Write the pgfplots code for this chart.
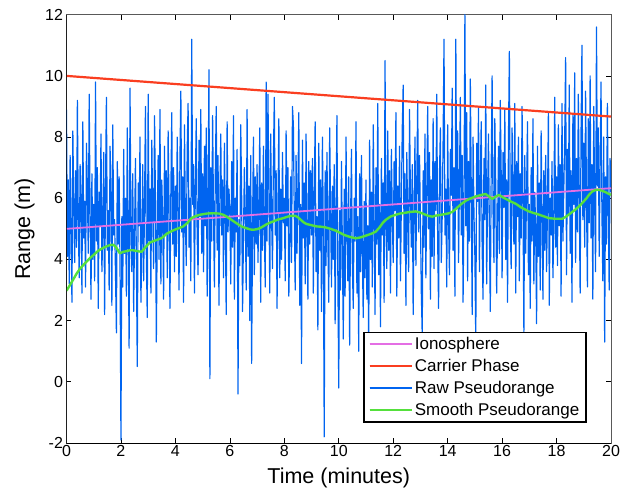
\documentclass[border=0pt]{standalone}
\usepackage{pgfplots}
\pgfplotsset{compat=1.18}
\usepackage{fontspec}
\setmainfont{Liberation Sans}
\definecolor{rawblue}{RGB}{0,100,240}
\definecolor{carrred}{RGB}{250,62,32}
\definecolor{ionoviolet}{RGB}{228,110,228}
\definecolor{smoothgreen}{RGB}{85,224,60}
\begin{document}
\begin{tikzpicture}
\begin{axis}[
  at={(0,0)}, anchor=south west,
  scale only axis, width=544.5pt, height=428.3pt,
  xmin=0, xmax=20, ymin=-2, ymax=12,
  xtick={0,2,...,20}, ytick={-2,0,...,12},
  tick align=inside, major tick length=5pt,
  tick style={black, line width=0.7pt},
  axis line style={black!65, line width=0.9pt},
  ticklabel style={font=\fontsize{16}{18}\selectfont},
  xticklabel style={yshift=1.3pt},
  /pgf/number format/assume math mode=true,
  xlabel={Time (minutes)}, ylabel={Range (m)},
  every axis x label/.style={at={(axis description cs:0.5,0)}, anchor=base, yshift=-40pt, font=\fontsize{21.5}{24}\selectfont},
  every axis y label/.style={at={(axis description cs:-0.077,0.5)}, rotate=90, anchor=center, font=\fontsize{21.5}{24}\selectfont},
  legend style={at={(axis description cs:0.955,0.047)}, anchor=south east,
    draw=black, line width=1.4pt, fill=white,
    font=\fontsize{17}{19}\selectfont,
    inner xsep=4.5pt, inner ysep=3pt, row sep=4.2pt},
  legend cell align=left,
  legend image code/.code={\draw[#1] (0pt,0pt) -- (28pt,0pt); \path (0pt,0pt) -- (42pt,0pt);},
]
\addplot[rawblue, line width=1.2pt, line join=round, forget plot]
  table[header=false, row sep=\\, x expr=\coordindex/30, y index=0] {
8.9\\4.1\\6.6\\3.2\\7.4\\5.0\\2.6\\8.2\\5.7\\3.9\\6.9\\4.4\\9.2\\5.2\\3.4\\7.1\\6.0\\2.9\\8.5\\4.7\\5.9\\3.1\\7.8\\6.3\\4.2\\9.4\\5.5\\2.7\\6.8\\4.0\\
5.8\\3.3\\9.8\\4.6\\7.0\\2.4\\6.2\\5.1\\8.1\\3.6\\4.9\\7.5\\2.2\\6.4\\9.3\\4.3\\5.6\\3.0\\7.7\\6.1\\2.5\\8.4\\4.8\\5.3\\3.5\\1.6\\7.2\\4.5\\6.7\\3.8\\
-1.9\\5.4\\3.1\\7.6\\4.2\\6.0\\2.8\\8.3\\4.7\\1.1\\9.6\\5.2\\3.6\\6.8\\2.3\\4.9\\7.3\\3.9\\0.5\\6.5\\5.1\\8.0\\2.6\\4.4\\7.1\\3.3\\5.8\\9.0\\4.1\\2.1\\
9.4\\4.6\\6.3\\2.9\\7.9\\5.5\\3.7\\8.7\\6.1\\1.3\\5.0\\7.4\\4.0\\8.9\\3.2\\6.6\\5.3\\2.7\\7.7\\4.8\\6.9\\3.4\\8.2\\5.7\\2.4\\6.2\\8.8\\4.5\\7.0\\3.6\\
6.4\\4.1\\8.0\\5.6\\3.0\\7.3\\9.5\\4.9\\6.7\\2.6\\8.4\\5.2\\3.8\\7.6\\9.1\\4.4\\6.0\\3.3\\11.2\\5.8\\7.1\\2.9\\6.5\\8.6\\4.7\\3.5\\7.9\\5.4\\8.9\\4.2\\
6.8\\3.6\\7.7\\5.1\\8.3\\2.8\\6.2\\10.2\\0.1\\7.0\\4.6\\8.7\\5.5\\3.1\\6.9\\9.0\\4.3\\7.4\\2.5\\5.9\\8.1\\4.8\\6.6\\3.4\\7.8\\5.3\\2.2\\8.5\\4.9\\6.3\\
5.6\\3.2\\7.2\\4.4\\8.7\\2.7\\6.0\\4.9\\7.6\\-0.4\\5.3\\3.8\\8.4\\6.1\\2.3\\4.7\\7.0\\5.5\\3.0\\8.9\\4.1\\6.4\\2.0\\7.4\\0.6\\5.0\\8.0\\3.5\\6.7\\4.5\\
7.1\\3.9\\5.8\\8.3\\2.6\\6.5\\4.3\\7.7\\5.0\\3.1\\9.8\\4.6\\9.4\\6.2\\2.9\\8.1\\5.4\\3.7\\7.3\\9.3\\4.8\\6.9\\2.4\\5.7\\8.6\\3.4\\6.3\\4.0\\7.5\\5.2\\
6.0\\3.3\\8.2\\5.1\\7.0\\2.8\\4.6\\6.7\\3.9\\9.0\\8.4\\5.5\\3.0\\7.4\\4.2\\6.3\\8.8\\2.5\\5.8\\0.6\\7.9\\4.7\\6.5\\3.2\\8.1\\5.0\\2.7\\7.2\\4.5\\6.9\\
4.8\\7.3\\2.9\\6.1\\8.5\\3.6\\5.4\\1.7\\7.8\\4.3\\6.6\\2.3\\8.0\\5.0\\-1.8\\6.9\\3.8\\7.5\\4.6\\2.6\\8.3\\5.7\\3.1\\6.4\\4.0\\7.1\\1.9\\5.5\\8.7\\3.5\\
-0.2\\5.6\\3.0\\7.2\\4.4\\1.4\\6.3\\2.8\\8.0\\4.9\\3.3\\6.7\\1.2\\5.2\\7.6\\3.8\\2.4\\6.0\\4.6\\8.5\\2.9\\5.4\\1.0\\6.8\\3.6\\7.4\\4.2\\2.1\\5.9\\3.4\\
6.6\\2.7\\5.1\\1.0\\7.9\\4.0\\6.2\\3.1\\8.4\\5.3\\2.2\\7.0\\4.5\\9.1\\3.5\\5.8\\1.8\\7.3\\4.8\\6.5\\2.6\\10.5\\5.0\\3.7\\8.2\\4.3\\6.9\\2.9\\7.6\\5.4\\
3.9\\7.2\\5.6\\8.8\\2.8\\6.4\\4.7\\7.7\\3.3\\5.9\\8.3\\9.7\\4.2\\6.8\\2.5\\7.5\\5.1\\3.6\\8.9\\6.0\\4.4\\7.1\\2.2\\5.5\\8.0\\3.8\\6.6\\9.2\\4.9\\7.4\\
5.3\\2.9\\1.5\\6.9\\4.4\\8.1\\3.4\\6.2\\9.0\\5.0\\7.5\\2.7\\6.6\\4.1\\8.6\\3.7\\7.2\\5.6\\9.4\\4.6\\2.4\\6.8\\8.3\\3.9\\5.4\\7.9\\11.2\\4.8\\6.3\\3.1\\
8.4\\5.2\\3.5\\7.6\\6.1\\9.6\\4.3\\7.0\\2.8\\11.2\\5.7\\8.2\\3.9\\6.5\\9.3\\4.8\\7.4\\2.6\\6.0\\12.0\\5.1\\8.8\\3.3\\7.2\\4.6\\9.9\\6.3\\2.2\\8.0\\5.5\\
4.1\\1.3\\7.8\\5.9\\9.0\\3.6\\6.7\\8.5\\4.4\\2.7\\7.3\\5.3\\9.7\\3.2\\6.1\\8.1\\4.9\\2.3\\7.0\\10.0\\5.6\\3.9\\8.6\\6.4\\2.9\\5.0\\7.7\\4.2\\9.2\\6.8\\
3.4\\7.5\\5.7\\8.9\\4.0\\6.6\\2.6\\7.9\\10.8\\5.2\\3.7\\8.3\\6.0\\4.5\\9.1\\2.9\\7.2\\5.4\\8.0\\3.3\\6.8\\4.7\\9.0\\5.9\\1.6\\7.4\\4.2\\6.3\\8.5\\3.5\\
5.8\\2.4\\7.0\\4.6\\8.6\\3.2\\6.2\\5.0\\1.9\\7.7\\4.1\\6.5\\3.0\\8.2\\5.4\\2.7\\6.9\\4.3\\7.4\\3.6\\5.7\\8.8\\2.5\\6.0\\4.8\\7.2\\3.4\\5.2\\9.3\\4.4\\
6.7\\3.8\\8.4\\5.1\\7.1\\2.8\\9.1\\4.6\\6.3\\8.0\\10.6\\3.5\\7.6\\5.5\\9.7\\4.2\\6.9\\2.6\\8.7\\5.8\\10.1\\3.9\\7.3\\4.9\\9.4\\6.1\\2.9\\8.2\\11.0\\5.3\\
7.8\\4.4\\9.5\\6.0\\3.1\\8.6\\5.2\\10.0\\4.7\\7.1\\2.7\\9.0\\5.9\\3.6\\11.6\\6.4\\8.3\\4.1\\7.0\\9.8\\5.5\\3.3\\8.0\\1.3\\6.7\\4.5\\9.1\\5.6\\3.0\\7.3\\
6.2\\
};
\addplot[ionoviolet, line width=1.8pt] coordinates {(0,5.0) (20,6.33)};
\addlegendentry{Ionosphere}
\addplot[carrred, line width=2.2pt] coordinates {(0,10.0) (20,8.67)};
\addlegendentry{Carrier Phase}
\addlegendimage{rawblue, line width=1.8pt}
\addlegendentry{Raw Pseudorange}
\addplot[smoothgreen, line width=2.4pt, line join=round] coordinates {
(0,2.98) (0.12,3.15) (0.25,3.35) (0.38,3.55) (0.5,3.7) (0.62,3.82) (0.74,3.93) (0.87,4.05) (1.0,4.15) (1.12,4.25) (1.23,4.32) (1.35,4.38) (1.45,4.42) (1.6,4.47) (1.72,4.48) (1.8,4.42) (1.87,4.33) (1.96,4.2) (2.08,4.25) (2.2,4.27) (2.32,4.3) (2.45,4.3) (2.6,4.27) (2.76,4.25) (2.9,4.4) (3.06,4.55) (3.2,4.6) (3.35,4.65) (3.5,4.7) (3.68,4.84) (3.85,4.92) (4.0,4.98) (4.15,5.03) (4.29,5.08) (4.45,5.2) (4.59,5.35) (4.75,5.42) (4.9,5.46) (5.15,5.5) (5.39,5.51) (5.6,5.5) (5.76,5.46) (5.88,5.4) (6.0,5.33) (6.15,5.24) (6.3,5.15) (6.45,5.07) (6.61,5.02) (6.75,4.98) (6.86,4.97) (7.0,4.99) (7.1,5.02) (7.22,5.08) (7.35,5.15) (7.47,5.2) (7.59,5.24) (7.75,5.3) (7.96,5.35) (8.2,5.42) (8.39,5.43) (8.5,5.38) (8.6,5.3) (8.7,5.22) (8.81,5.16) (9.0,5.12) (9.18,5.08) (9.35,5.07) (9.5,5.05) (9.7,5.0) (9.89,4.94) (10.05,4.87) (10.2,4.8) (10.4,4.74) (10.62,4.69) (10.8,4.72) (11.0,4.78) (11.2,4.84) (11.36,4.91) (11.5,5.05) (11.62,5.2) (11.72,5.29) (11.9,5.4) (12.09,5.46) (12.25,5.5) (12.4,5.52) (12.6,5.55) (12.82,5.57) (13.0,5.53) (13.19,5.46) (13.3,5.42) (13.44,5.40) (13.55,5.43) (13.7,5.45) (13.88,5.48) (14.05,5.51) (14.18,5.56) (14.3,5.65) (14.42,5.75) (14.54,5.84) (14.67,5.92) (14.8,5.98) (14.92,6.02) (15.03,6.06) (15.2,6.1) (15.39,6.14) (15.5,6.07) (15.64,5.98) (15.76,6.05) (15.88,6.11) (16.05,6.02) (16.2,5.95) (16.35,5.88) (16.5,5.82) (16.7,5.7) (16.98,5.57) (17.15,5.52) (17.3,5.48) (17.5,5.42) (17.72,5.35) (17.95,5.33) (18.21,5.33) (18.35,5.4) (18.5,5.5) (18.65,5.6) (18.82,5.73) (18.95,5.85) (19.1,6.0) (19.2,6.12) (19.31,6.22) (19.43,6.27) (19.55,6.28) (19.68,6.24) (19.8,6.2) (19.9,6.15) (20,6.11)
};
\addlegendentry{Smooth Pseudorange}
\draw[black, line width=0.9pt] (rel axis cs:0,1) -- (rel axis cs:0,0) -- (rel axis cs:1,0);
\end{axis}
\pgfresetboundingbox
\path[use as bounding box] (-66.5pt,-48pt) rectangle (569.5pt,443pt);
\end{tikzpicture}
\end{document}
